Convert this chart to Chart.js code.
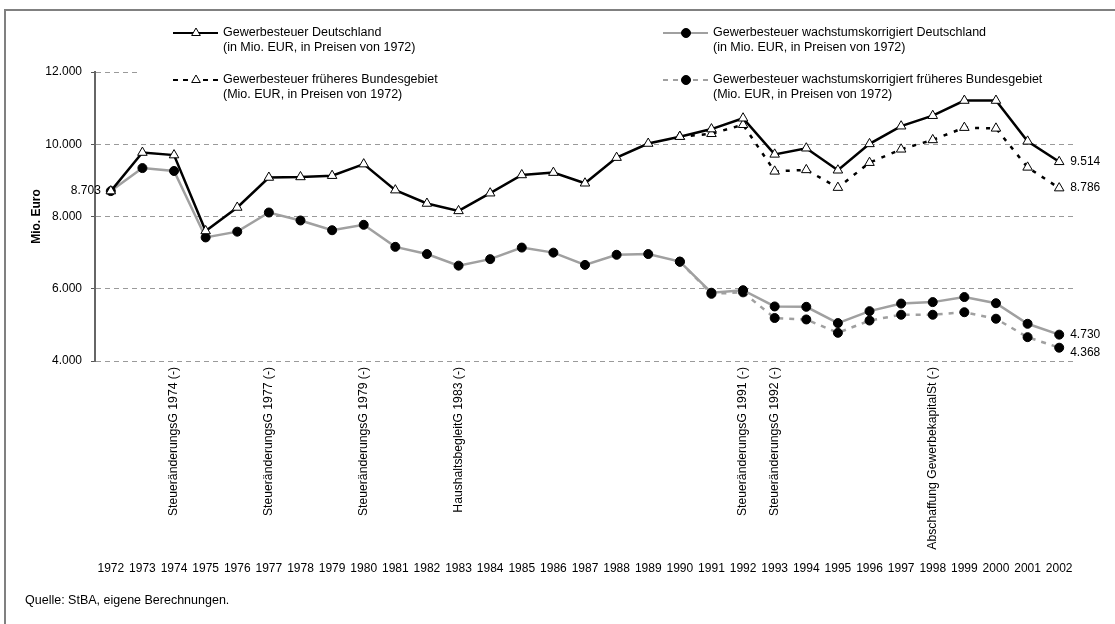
<!DOCTYPE html>
<html lang="de">
<head>
<meta charset="utf-8">
<title>Gewerbesteuer 1972–2002</title>
<script src="https://cdn.jsdelivr.net/npm/chart.js@4.4.1/dist/chart.umd.min.js"></script>
<style>
  html, body { margin: 0; padding: 0; background: #fff; }
  #wrap { width: 1115px; height: 624px; position: relative; }
  canvas { display: block; }
</style>
</head>
<body>
<div id="wrap"><canvas id="chart" width="1115" height="624"></canvas></div>
<script>
// Years on the category axis
const years = ['1972','1973','1974','1975','1976','1977','1978','1979','1980','1981',
               '1982','1983','1984','1985','1986','1987','1988','1989','1990','1991',
               '1992','1993','1994','1995','1996','1997','1998','1999','2000','2001','2002'];

// Gewerbesteuer Deutschland (Mio. EUR, Preise von 1972)
const gewstDeutschland = [8703, 9770, 9700, 7600, 8250, 9080, 9095, 9130, 9450, 8730,
                          8360, 8155, 8645, 9150, 9215, 8920, 9630, 10020, 10210, 10420,
                          10720, 9720, 9890, 9280, 10010, 10500, 10790, 11210, 11210, 10080, 9514];

// Gewerbesteuer wachstumskorrigiert Deutschland
const gewstWkDeutschland = [8703, 9340, 9260, 7420, 7580, 8110, 7890, 7620, 7770, 7160,
                            6960, 6640, 6820, 7140, 7000, 6660, 6940, 6960, 6750, 5890,
                            5960, 5510, 5500, 5050, 5380, 5590, 5630, 5770, 5600, 5030, 4730];

// Gewerbesteuer früheres Bundesgebiet (ab 1990 getrennt ausgewiesen)
const gewstBundesgebiet = [null, null, null, null, null, null, null, null, null, null,
                           null, null, null, null, null, null, null, null, 10210, 10290,
                           10540, 9250, 9290, 8800, 9490, 9860, 10120, 10460, 10440, 9360, 8786];

// Gewerbesteuer wachstumskorrigiert früheres Bundesgebiet
const gewstWkBundesgebiet = [null, null, null, null, null, null, null, null, null, null,
                             null, null, null, null, null, null, null, null, 6750, 5860,
                             5900, 5190, 5150, 4780, 5120, 5280, 5280, 5350, 5170, 4660, 4368];

// Value axis
const yTicks = [4000, 6000, 8000, 10000, 12000];
const yTitle = 'Mio. Euro';

// Legend texts (two lines per entry)
const legendDeutschland = ['Gewerbesteuer Deutschland', '(in Mio. EUR, in Preisen von 1972)'];
const legendWkDeutschland = ['Gewerbesteuer wachstumskorrigiert Deutschland', '(in Mio. EUR, in Preisen von 1972)'];
const legendBundesgebiet = ['Gewerbesteuer früheres Bundesgebiet', '(Mio. EUR, in Preisen von 1972)'];
const legendWkBundesgebiet = ['Gewerbesteuer wachstumskorrigiert früheres Bundesgebiet', '(Mio. EUR, in Preisen von 1972)'];

// Tax law changes, placed at the year they take effect
const reformYears = ['1974', '1977', '1980', '1983', '1992', '1993', '1998'];
const reformTexts = ['SteueränderungsG 1974 (-)', 'SteueränderungsG 1977 (-)', 'SteueränderungsG 1979 (-)',
                     'HaushaltsbegleitG 1983 (-)', 'SteueränderungsG 1991 (-)', 'SteueränderungsG 1992 (-)',
                     'Abschaffung GewerbekapitalSt (-)'];

const sourceNote = 'Quelle: StBA, eigene Berechnungen.';

const FONT = '"Liberation Sans", Arial, Helvetica, sans-serif';
const GREY = '#a0a0a0';

function fmt(v) {
  return String(Math.round(v)).replace(/\B(?=(\d{3})+(?!\d))/g, '.');
}

Chart.defaults.font.family = FONT;
Chart.defaults.font.size = 12;
Chart.defaults.color = '#000';

const datasets = [
  {
    label: legendDeutschland[0], legendLines: legendDeutschland,
    data: gewstDeutschland,
    borderColor: '#000', borderWidth: 2.5,
    pointStyle: 'triangle', pointRadius: 5.5, pointBorderWidth: 1,
    pointBackgroundColor: '#fff', pointBorderColor: '#000'
  },
  {
    label: legendWkDeutschland[0], legendLines: legendWkDeutschland,
    data: gewstWkDeutschland,
    borderColor: GREY, borderWidth: 2.5,
    pointStyle: 'circle', pointRadius: 4.5, pointBorderWidth: 1,
    pointBackgroundColor: '#000', pointBorderColor: '#000'
  },
  {
    label: legendBundesgebiet[0], legendLines: legendBundesgebiet,
    data: gewstBundesgebiet,
    borderColor: '#000', borderWidth: 2.5, borderDash: [4, 7],
    pointStyle: 'triangle', pointRadius: 5.5, pointBorderWidth: 1,
    pointBackgroundColor: '#fff', pointBorderColor: '#000'
  },
  {
    label: legendWkBundesgebiet[0], legendLines: legendWkBundesgebiet,
    data: gewstWkBundesgebiet,
    borderColor: GREY, borderWidth: 2.5, borderDash: [5, 6],
    pointStyle: 'circle', pointRadius: 4.5, pointBorderWidth: 1,
    pointBackgroundColor: '#000', pointBorderColor: '#000'
  }
];

// Legend block above the plot; its white box hides the top grid line
const legendBlock = {
  id: 'legendBlock',
  beforeDatasetsDraw(chart) {
    const ctx = chart.ctx;
    const area = chart.chartArea;
    ctx.save();
    ctx.fillStyle = '#fff';
    ctx.fillRect(137, 14, area.right - 137 + 4, 96);
    const slots = [
      { ds: 0, x: 173, y: 33 },
      { ds: 1, x: 663, y: 33 },
      { ds: 2, x: 173, y: 80 },
      { ds: 3, x: 663, y: 80 }
    ];
    slots.forEach(s => {
      const d = chart.data.datasets[s.ds];
      ctx.save();
      ctx.strokeStyle = d.borderColor;
      ctx.lineWidth = 2;
      ctx.setLineDash(d.borderDash ? [5, 5] : []);
      ctx.beginPath();
      ctx.moveTo(s.x, s.y);
      ctx.lineTo(s.x + 45, s.y);
      ctx.stroke();
      ctx.setLineDash([]);
      ctx.fillStyle = d.pointBackgroundColor;
      ctx.strokeStyle = d.pointBorderColor;
      ctx.lineWidth = 1;
      Chart.helpers.drawPoint(ctx, {
        pointStyle: d.pointStyle, radius: d.pointStyle === 'triangle' ? 5 : 4.5,
        rotation: 0, borderWidth: 1
      }, s.x + 23, s.y);
      ctx.restore();
      ctx.fillStyle = '#000';
      ctx.font = '12.5px ' + FONT;
      ctx.textAlign = 'left';
      ctx.textBaseline = 'middle';
      ctx.fillText(d.legendLines[0], s.x + 50, s.y);
      ctx.fillText(d.legendLines[1], s.x + 50, s.y + 15);
    });
    ctx.restore();
  }
};

// Value labels at the start and end of the series, reform notes, source and frame
const decorations = {
  id: 'decorations',
  afterDraw(chart) {
    const ctx = chart.ctx;
    const xs = chart.scales.x;
    ctx.save();
    ctx.fillStyle = '#000';
    ctx.font = '12px ' + FONT;
    ctx.textBaseline = 'middle';

    // start value
    const p0 = chart.getDatasetMeta(0).data[0];
    ctx.textAlign = 'right';
    ctx.fillText(fmt(gewstDeutschland[0]), p0.x - 10, p0.y);

    // end values
    ctx.textAlign = 'left';
    const endOffsets = [0, 0, 0, 5];
    chart.data.datasets.forEach((d, i) => {
      const meta = chart.getDatasetMeta(i);
      const last = d.data.length - 1;
      const pt = meta.data[last];
      ctx.fillText(fmt(d.data[last]), pt.x + 11, pt.y + endOffsets[i]);
    });

    // reform notes, rotated, hanging below the value axis minimum
    ctx.font = '12.2px ' + FONT;
    ctx.textAlign = 'right';
    reformYears.forEach((yr, i) => {
      const x = xs.getPixelForValue(years.indexOf(yr));
      ctx.save();
      ctx.translate(x, 367);
      ctx.rotate(-Math.PI / 2);
      ctx.fillText(reformTexts[i], 0, 0);
      ctx.restore();
    });

    // source
    ctx.font = '12.5px ' + FONT;
    ctx.textAlign = 'left';
    ctx.fillText(sourceNote, 25, 601);

    // outer frame
    ctx.strokeStyle = '#808080';
    ctx.lineWidth = 2;
    ctx.strokeRect(5, 10, 1300, 800);
    ctx.restore();
  }
};

new Chart(document.getElementById('chart'), {
  type: 'line',
  data: { labels: years, datasets: datasets },
  options: {
    responsive: false,
    animation: false,
    events: [],
    layout: { padding: { left: 20, right: 40, top: 72, bottom: 0 } },
    elements: { line: { tension: 0, fill: false } },
    plugins: {
      legend: { display: false },
      tooltip: { enabled: false },
      title: { display: false }
    },
    scales: {
      x: {
        type: 'category',
        offset: true,
        grid: { display: false, drawTicks: false },
        border: { display: false },
        ticks: {
          autoSkip: false, maxRotation: 0, minRotation: 0,
          padding: 200, font: { size: 12 }, color: '#000'
        },
        afterFit(scale) {
          scale.height = 263;
          scale.paddingLeft = 0;
          scale.paddingRight = 0;
        }
      },
      y: {
        min: yTicks[0], max: yTicks[yTicks.length - 1],
        afterBuildTicks(scale) { scale.ticks = yTicks.map(v => ({ value: v })); },
        ticks: {
          padding: 9, font: { size: 12 }, color: '#000',
          callback: v => fmt(v)
        },
        grid: {
          color: '#9a9a9a', lineWidth: 1,
          tickLength: 4, tickColor: '#555', tickWidth: 1, tickBorderDash: []
        },
        border: { display: true, color: '#666', width: 2, dash: [5, 4] },
        title: {
          display: true, text: yTitle,
          font: { size: 12, weight: 'bold' }, color: '#000',
          padding: { top: 9, bottom: 0 }
        },
        afterFit(scale) { scale.width = 75; }
      }
    }
  },
  plugins: [legendBlock, decorations]
});
</script>
</body>
</html>
